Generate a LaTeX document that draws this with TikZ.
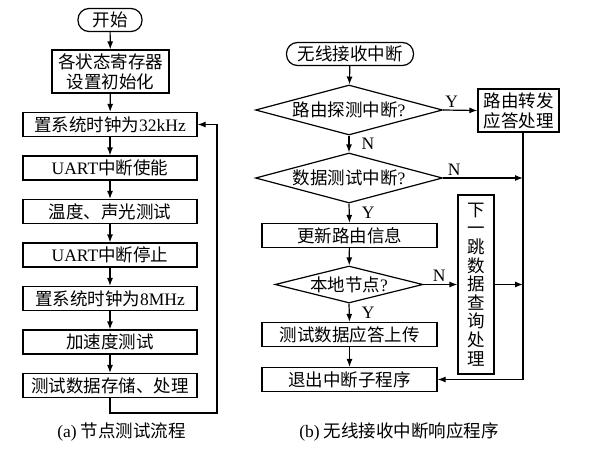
\documentclass[tikz,border=0pt]{standalone}
\usepackage{fontspec}
\setmainfont{Liberation Serif}
\newfontfamily\cjk{Noto Sans CJK SC}
\usetikzlibrary{arrows.meta,shapes.geometric}
\newcommand\latn[1]{{\rmfamily #1}}
\begin{document}
\begin{tikzpicture}[x=1pt,y=-1pt,
  line width=1.2pt,
  arr/.style={-{Latex[length=8pt,width=6pt]}},
  base/.style={draw, inner sep=0pt, font=\fontsize{17.5}{20}\cjk, align=center},
  box/.style={base, rectangle, minimum width=#1, minimum height=24pt},
  term/.style={base, rectangle, rounded corners=11pt, minimum width=#1, minimum height=23pt},
  dia/.style={base, diamond, shape aspect=#1},
  lbl/.style={inner sep=1pt, font=\fontsize{17.5}{20}\rmfamily},
  captxt/.style={inner sep=0pt, font=\fontsize{17.5}{20}\cjk}
]
\useasboundingbox (0,0) rectangle (613,461);

% ---------- (a) ----------
\node[term=64pt] (ls) at (110,20) {开始};
\node[box=117pt, minimum height=43pt] (li) at (110.5,71.5) {各状态寄存器\\设置初始化};
\node[box=174pt] (l1) at (110,124.5) {置系统时钟为\latn{32kHz}};
\node[box=174pt] (l2) at (110,168) {\latn{UART}中断使能};
\node[box=174pt] (l3) at (110,211.5) {温度、声光测试};
\node[box=174pt] (l4) at (110,255) {\latn{UART}中断停止};
\node[box=174pt] (l5) at (110,298.5) {置系统时钟为\latn{8MHz}};
\node[box=174pt] (l6) at (110,342) {加速度测试};
\node[box=174pt] (l7) at (110,385.5) {测试数据存储、处理};
\coordinate (lp) at (217,413);

\draw[arr] (ls) -- (li);
\draw[arr] (li) -- (l1);
\draw[arr] (l1) -- (l2);
\draw[arr] (l2) -- (l3);
\draw[arr] (l3) -- (l4);
\draw[arr] (l4) -- (l5);
\draw[arr] (l5) -- (l6);
\draw[arr] (l6) -- (l7);
\draw[arr] (l7.south) |- (lp) |- (l1.east);

\node[captxt] (capa) at (121.5,432) {\latn{(a)} 节点测试流程};

% ---------- (b) ----------
\node[term=127pt] (rs) at (350,54) {无线接收中断};
\node[dia=3.74, minimum width=187pt, minimum height=50pt] (d1) at (349,110) {路由探测中断\latn{?}};
\node[box=81pt, minimum height=43pt] (b1) at (518.5,110.5) {路由转发\\应答处理};
\node[dia=3.74, minimum width=187pt, minimum height=50pt] (d2) at (349,178) {数据测试中断\latn{?}};
\node[box=175pt] (b2) at (349.5,235.5) {更新路由信息};
\node[dia=4, minimum width=148pt, minimum height=37pt] (d3) at (349,284.5) {本地节点\latn{?}};
\node[box=175pt] (b3) at (349.5,334.5) {测试数据应答上传};
\node[box=175pt] (b4) at (349.5,379.5) {退出中断子程序};
\node[base, rectangle, minimum width=36pt, minimum height=179pt, font=\fontsize{17.5}{18.6}\cjk]
  (bv) at (476,284.5) {下\\一\\跳\\数\\据\\查\\询\\处\\理};
\coordinate (j1) at (523,178);
\coordinate (j2) at (523,284.5);
\coordinate (rv) at (523,379.5);

\draw[arr] (rs) -- (d1);
\draw[arr] (d1.east) -- node[lbl, pos=0.25, anchor=south, yshift=1pt] {Y} (b1.west);
\draw[arr] (d1.south) -- node[lbl, midway, anchor=west, xshift=11pt] {N} (d2.north);
\draw[arr] (d2.east) -- node[lbl, pos=0.14, anchor=south, yshift=1pt] {N} (j1);
\draw[arr] (d2.south) -- node[lbl, midway, anchor=west, xshift=11pt] {Y} (b2.north);
\draw[arr] (b2) -- (d3);
\draw[arr] (d3.east) -- node[lbl, pos=0.46, anchor=south, yshift=1pt] {N} (bv.west);
\draw[arr] (bv.east |- j2) -- (j2);
\draw[arr] (d3.south) -- node[lbl, midway, anchor=west, xshift=11pt] {Y} (b3.north);
\draw[arr] (b3) -- (b4);
\draw[arr] (b1.south -| rv) -- (rv) -- (b4.east);

\node[captxt] (capb) at (399,432) {\latn{(b)} 无线接收中断响应程序};
\end{tikzpicture}
\end{document}
